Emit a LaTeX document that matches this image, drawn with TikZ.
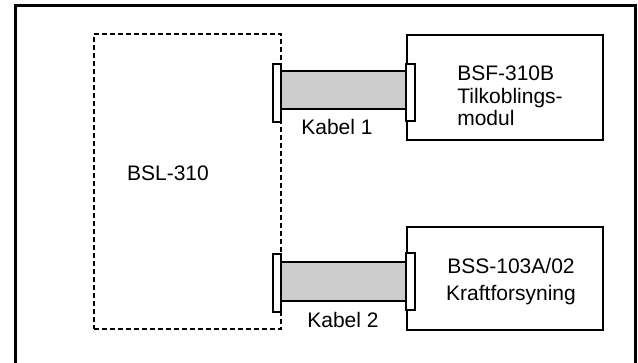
\documentclass[tikz,border=0pt]{standalone}
\usepackage{fontspec}
\setmainfont{Liberation Sans}
\begin{document}
\begin{tikzpicture}[x=1pt,y=-1pt,
  box/.style={draw=black,line width=1.5pt,fill=white,inner sep=0pt},
  dashbox/.style={draw=black,line width=1.8pt,dash pattern=on 5pt off 3pt,inner sep=0pt},
  cable/.style={draw=black,line width=1.5pt,fill=black!20,inner sep=0pt},
  plate/.style={draw=black,line width=1.4pt,fill=white,inner sep=0pt,minimum width=8pt},
  txt/.style={font=\fontsize{21}{22.5}\selectfont,inner sep=0pt}]
\useasboundingbox (0,0) rectangle (638,362);
% outer frame
\draw[line width=3pt] (15,364) -- (15,5) -- (635,5) -- (635,364);
% main units
\node[dashbox,minimum width=187pt,minimum height=295pt] (bsl) at (187.5,181.5) {};
\node[txt] (bsltxt) at (168,173) {BSL-310};
\node[box,minimum width=196pt,minimum height=105pt] (bsf) at (505,87.5) {};
\node[txt,align=left] (bsftxt) at (510,96) {BSF-310B\\Tilkoblings-\\modul};
\node[box,minimum width=196pt,minimum height=103pt] (bss) at (505,278.5) {};
\node[txt,align=center,font=\fontsize{21}{27}\selectfont] (bsstxt) at (511,282) {BSS-103A/02\\Kraftforsyning};
% cable 1
\node[cable,minimum width=125pt,minimum height=38pt] (c1) at (343.5,90) {};
\node[plate,minimum height=58pt] (p1l) at (277,93) {};
\node[plate,minimum width=9pt,minimum height=57pt] (p1r) at (410.5,92.5) {};
\node[txt] (k1) at (337,127) {Kabel 1};
% cable 2
\node[cable,minimum width=125pt,minimum height=39pt] (c2) at (343.5,281.5) {};
\node[plate,minimum height=58pt] (p2l) at (277,283) {};
\node[plate,minimum width=9pt,minimum height=57pt] (p2r) at (410.5,281.5) {};
\node[txt] (k2) at (343,320) {Kabel 2};
\end{tikzpicture}
\end{document}
